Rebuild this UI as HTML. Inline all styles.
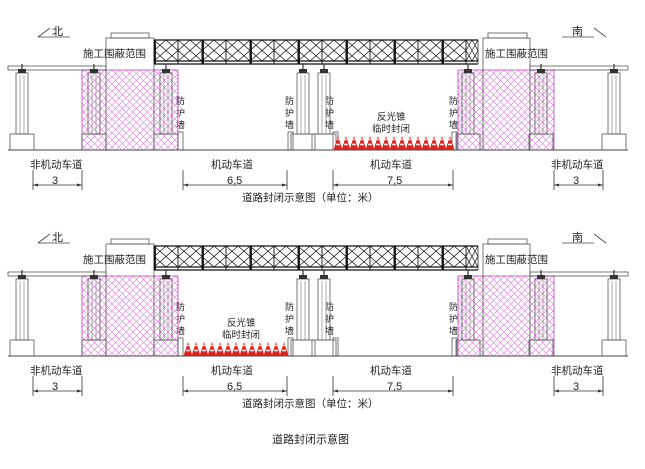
<!DOCTYPE html>
<html><head><meta charset="utf-8"><style>
html,body{margin:0;padding:0;background:#fff;width:645px;height:469px;overflow:hidden}
svg{display:block}
text{font-family:"Liberation Sans","Noto Sans CJK SC",sans-serif;fill:#222}
</style></head><body>
<svg id="s" width="645" height="469" viewBox="0 0 645 469" xmlns="http://www.w3.org/2000/svg">
<defs>
<pattern id="h" width="7" height="7" patternUnits="userSpaceOnUse">
<path d="M0,0L7,7M7,0L0,7" stroke="#dc78dc" stroke-width="0.6"/>
</pattern>
</defs>
<g id="d0">
<text x="52" y="35" font-size="11">北</text>
<text x="572" y="35" font-size="11">南</text>
<g font-size="10.5">
<text x="83" y="57">施工围蔽范围</text>
<text x="485" y="57">施工围蔽范围</text>
<text x="30" y="168">非机动车道</text>
<text x="551" y="168">非机动车道</text>
<text x="211" y="168">机动车道</text>
<text x="370" y="168">机动车道</text>
<text x="242" y="201">道路封闭示意图（单位：米）</text>
</g>
<g font-size="11">
<text x="52" y="184">3</text>
<text x="573" y="184">3</text>
<text x="227" y="184">6,5</text>
<text x="387" y="184">7,5</text>
</g>
<g font-size="9" fill="#444">
<text x="176" y="104">防</text><text x="176" y="116">护</text><text x="176" y="128">墙</text>
<text x="285" y="104">防</text><text x="285" y="116">护</text><text x="285" y="128">墙</text>
<text x="325" y="104">防</text><text x="325" y="116">护</text><text x="325" y="128">墙</text>
<text x="449" y="104">防</text><text x="449" y="116">护</text><text x="449" y="128">墙</text>
</g>
</g>
</svg>
<script>
var s=document.getElementById('s'),NS='http://www.w3.org/2000/svg';
function el(g,t,a){var e=document.createElementNS(NS,t);for(var k in a)e.setAttribute(k,a[k]);g.appendChild(e);return e;}
var d0=document.getElementById('d0');
var d1=d0.cloneNode(true);d1.setAttribute('transform','translate(0,206)');s.appendChild(d1);
function draw(g,cx0,cx1,lbx){
 var L={stroke:'#555','stroke-width':0.8,fill:'none'};
 el(g,'path',{d:'M38,37L50,28M38,37L70,37',stroke:'#444','stroke-width':0.8,fill:'none'});
 el(g,'path',{d:'M562,37L594,37M594,28L606,37',stroke:'#444','stroke-width':0.8,fill:'none'});
 el(g,'rect',{x:82,y:70,width:96,height:80,fill:'url(#h)',stroke:'#c040c0','stroke-width':0.8});
 el(g,'rect',{x:458,y:70,width:96,height:80,fill:'url(#h)',stroke:'#c040c0','stroke-width':0.8});
 el(g,'rect',Object.assign({x:8,y:66,width:98,height:4},L));
 el(g,'rect',Object.assign({x:530,y:66,width:98,height:4},L));
 el(g,'rect',Object.assign({x:106,y:38,width:48,height:112},L));
 el(g,'rect',Object.assign({x:111,y:33,width:38,height:5},L));
 el(g,'rect',Object.assign({x:483,y:38,width:47,height:112},L));
 el(g,'rect',Object.assign({x:488,y:33,width:39,height:5},L));
 var T={stroke:'#111','stroke-width':1.2,fill:'none'};
 el(g,'path',Object.assign({d:'M154,40H478M154,61H478M154,64H478'},T));
 for(var x=154;x<478;x+=24){
  var x2=Math.min(x+24,478),m=(x+x2)/2;
  el(g,'path',{d:'M'+x+',40V64M'+x2+',40V64M'+x+',40L'+x2+',61M'+x2+',40L'+x+',61M'+m+',40L'+x+',50.5L'+m+',61L'+x2+',50.5Z',stroke:'#111','stroke-width':0.7,fill:'none'});
 }
 for(var x=154;x<=478;x+=48){el(g,'path',{d:'M'+(x+1)+',40V64',stroke:'#111','stroke-width':1.8});}
 [[16,true],[88,false],[160,false],[297,true],[318,true],[462,false],[535,false],[608,true]].forEach(function(c){
  var x=c[0];
  el(g,'rect',Object.assign({x:x,y:73,width:12,height:61},L));
  el(g,'path',{d:'M'+(x+4)+',75V134M'+(x+8)+',75V134',stroke:'#777','stroke-width':0.6});
  el(g,'rect',{x:x+2,y:69,width:8,height:4,fill:'#333'});
  el(g,'path',{d:'M'+(x+6)+',64V69',stroke:'#333','stroke-width':1.2});
  el(g,'rect',Object.assign({x:x-6,y:134,width:24,height:16},L));
 });
 [178,288,333,452].forEach(function(x){el(g,'rect',Object.assign({x:x,y:132,width:5,height:18},L));});
 el(g,'path',{d:'M8,150H628',stroke:'#444','stroke-width':1});
 [[33,82],[183,287],[333,453],[554,603]].forEach(function(d){
  el(g,'path',{d:'M'+d[0]+',170V190M'+d[1]+',170V190M'+d[0]+',185H'+d[1],stroke:'#333','stroke-width':0.8});
  el(g,'path',{d:'M'+d[0]+',185l5,-1.5v3zM'+d[1]+',185l-5,-1.5v3z',fill:'#333'});
 });
 for(var x=cx0;x<=cx1-8;x+=8){
  el(g,'path',{d:'M'+(x-0.5)+',150L'+(x+4)+',136L'+(x+8.5)+',150Z',fill:'#e0201a'});
  el(g,'path',{d:'M'+(x+2.2)+',144.5H'+(x+5.8),stroke:'#fff','stroke-width':1.6});
  el(g,'path',{d:'M'+(x+3.2)+',139.5H'+(x+4.8),stroke:'#fff','stroke-width':1.4});
 }
 var t1=el(g,'text',{x:lbx,y:120,'font-size':'9.5'});t1.textContent='反光锥';
 var t2=el(g,'text',{x:lbx-5,y:132,'font-size':'9.5'});t2.textContent='临时封闭';
}
draw(d0,334,458,377);
draw(d1,184,289,227);
</script>
<svg width="645" height="469" style="position:absolute;left:0;top:0" xmlns="http://www.w3.org/2000/svg"><text x="272" y="443" font-size="11" style="font-family:'Liberation Sans','Noto Sans CJK SC',sans-serif">道路封闭示意图</text></svg>
</body></html>
